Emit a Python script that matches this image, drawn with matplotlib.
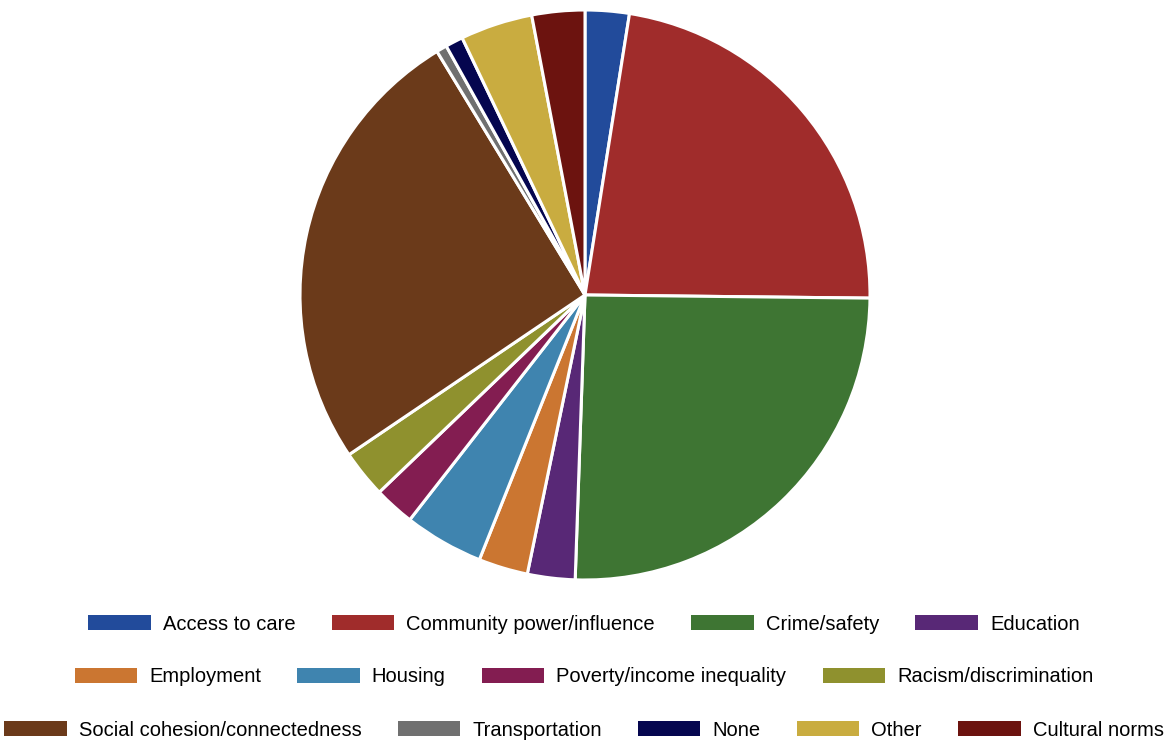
import matplotlib
matplotlib.use("Agg")
import matplotlib.pyplot as plt
from matplotlib.patches import Patch

labels = ["Access to care", "Community power/influence", "Crime/safety", "Education",
          "Employment", "Housing", "Poverty/income inequality", "Racism/discrimination",
          "Social cohesion/connectedness", "Transportation", "None", "Other", "Cultural norms"]
shares = [2.5, 22.7, 25.4, 2.7, 2.8, 4.5, 2.3, 2.7, 25.8, 0.6, 1.0, 4.1, 3.0]
colors = ["#224B9B", "#A02C2B", "#3E7533", "#582876", "#CB7631", "#3F84AF", "#831D51",
          "#8F912E", "#6B3A1A", "#707070", "#05064F", "#C9AC40", "#6C130F"]
rows = [[0, 1, 2, 3], [4, 5, 6, 7], [8, 9, 10, 11, 12]]

plt.rcParams["font.family"] = ["Liberation Sans", "DejaVu Sans"]

W, H = 1168, 740
fig = plt.figure(figsize=(W / 100, H / 100), dpi=100)
cx, cy, r = 585, 295, 285
ax = fig.add_axes([(cx - r) / W, (H - cy - r) / H, 2 * r / W, 2 * r / H])
ax.pie(shares, colors=colors, startangle=90, counterclock=False,
       wedgeprops=dict(edgecolor="white", linewidth=2.2))
ax.set_xlim(-1, 1)
ax.set_ylim(-1, 1)
ax.set_aspect("equal")

row_y = [624, 677, 730]
for idx, y in zip(rows, row_y):
    handles = [Patch(facecolor=colors[i], edgecolor="none", label=labels[i]) for i in idx]
    fig.legend(handles=handles, loc="center", bbox_to_anchor=(0.5, 1 - y / H),
               ncol=len(idx), frameon=False, fontsize=14.5,
               handlelength=3.1, handleheight=0.8, handletextpad=0.6,
               columnspacing=1.8, borderaxespad=0, borderpad=0)

fig.savefig("out.png", dpi=100)
